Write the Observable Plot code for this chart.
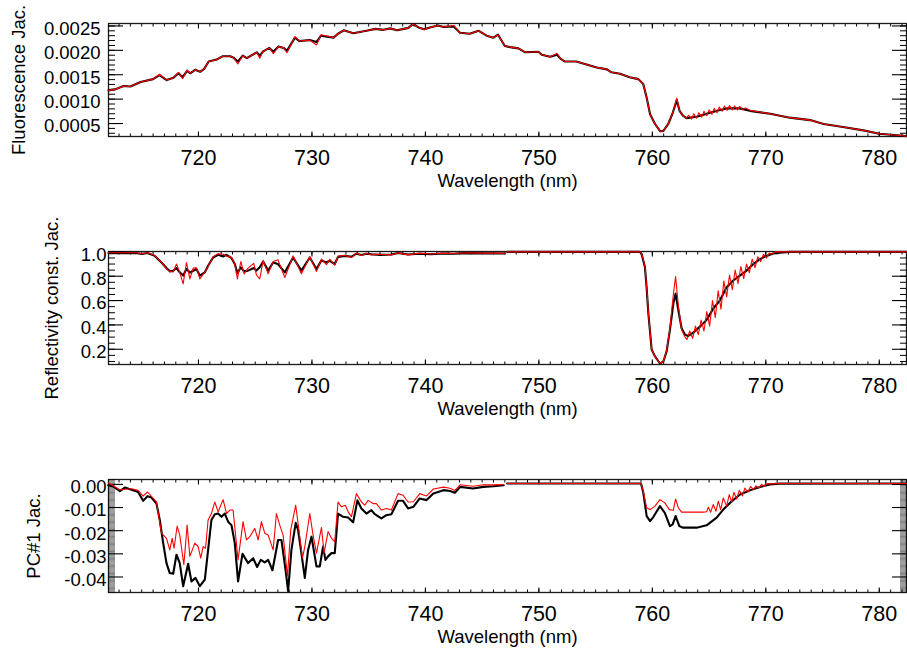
<!DOCTYPE html>
<html><head><meta charset="utf-8">
<script src="https://cdn.jsdelivr.net/npm/d3@7"></script>
<script src="https://cdn.jsdelivr.net/npm/@observablehq/plot@0.6"></script>
<style>
html,body{margin:0;padding:0;background:#fff;}
#chart svg{display:block;}
</style></head><body><div id="chart"></div>
<script>
// ---------- axes ----------
const xDomain = [712.07, 782.4];
const xMajorTicks = [720, 730, 740, 750, 760, 770, 780];
const xTitle = "Wavelength (nm)";
const bandSplit = 747.1;

const fluoTitle = "Fluorescence Jac.";
const fluoTicks = [0.0005, 0.0010, 0.0015, 0.0020, 0.0025];
const reflTitle = "Reflectivity const. Jac.";
const reflTicks = [0.2, 0.4, 0.6, 0.8, 1.0];
const pcTitle = "PC#1 Jac.";
const pcTicks = [0.00, -0.01, -0.02, -0.03, -0.04];

// ---------- panel 1: fluorescence Jacobian ----------
const fluoBlackWl = [712.07,712.66,713.4,714.0,714.9,716.0,716.56,717.2,717.8,718.24,
718.6,719.0,719.27,719.7,720.15,720.5,720.9,721.6,722.15,722.8,
723.08,723.47,723.9,724.26,725.14,725.4,725.7,726.25,726.6,727.05,
727.5,727.8,728.5,728.9,729.8,730.4,730.8,731.9,732.3,732.8,
733.65,734.8,735.6,736.3,736.9,737.5,738.1,738.5,738.9,739.4,
739.9,740.4,741.1,741.6,742.5,743.05,743.9,744.7,745.4,746.0,
746.4,747.0,747.6,748.2,748.8,749.96,750.25,751.0,751.6,751.9,
752.3,753.3,753.9,755.1,756.0,756.4,757.15,758.0,758.77,759.2,
759.5,759.8,760.24,760.7,760.97,761.4,761.8,762.15,762.4,762.7,
763.0,763.9,764.8,765.7,766.55,767.7,768.6,770.4,772.1,773.9,
775.1,776.8,778.6,780.0,782.1,782.4];
const fluoBlackVal = [0.00118,0.00120,0.00127,0.00126,0.00135,0.00141,0.00149,0.00139,0.00144,0.00153,
0.00145,0.00158,0.00153,0.00160,0.00156,0.00162,0.00177,0.00181,0.00188,0.00188,
0.00185,0.00177,0.00189,0.00184,0.00196,0.00189,0.00198,0.00205,0.00197,0.00208,
0.00205,0.00199,0.00226,0.00219,0.00221,0.00217,0.00230,0.00226,0.00234,0.00241,
0.00235,0.00240,0.00244,0.00242,0.00245,0.00241,0.00244,0.00246,0.00254,0.00247,
0.00243,0.00247,0.00251,0.00248,0.00249,0.00236,0.00234,0.00240,0.00230,0.00226,
0.00232,0.00209,0.00206,0.00204,0.00196,0.00197,0.00191,0.00187,0.00191,0.00183,
0.00177,0.00177,0.00173,0.00165,0.00161,0.00155,0.00152,0.00145,0.00141,0.00131,
0.00103,0.00069,0.00049,0.00034,0.00035,0.00049,0.00072,0.00098,0.00076,0.00066,
0.00061,0.00064,0.00070,0.00076,0.00081,0.00081,0.00076,0.00070,0.00062,0.00057,
0.00049,0.00043,0.00036,0.00029,0.00025,0.00024];
const fluoRedWl = fluoBlackWl.slice(0, 90).concat([
763.0,763.2,763.45,763.65,763.9,764.1,764.35,764.55,764.8,765.0,
765.25,765.45,765.7,765.9,766.15,766.35,766.6,766.8,767.05,767.25,
767.5,767.7,767.95,768.2,768.6,
770.4,772.1,773.9,775.1,776.8,778.6,780.0,782.1,782.4]);
const fluoRedVal = [0.00118,0.00120,0.00127,0.00126,0.00135,0.00141,0.00151,0.00139,0.00144,0.00155,
0.00142,0.00160,0.00153,0.00160,0.00156,0.00162,0.00177,0.00181,0.00188,0.00188,
0.00185,0.00172,0.00189,0.00184,0.00196,0.00184,0.00198,0.00205,0.00193,0.00208,
0.00205,0.00195,0.00228,0.00219,0.00221,0.00211,0.00232,0.00226,0.00234,0.00241,
0.00235,0.00240,0.00244,0.00242,0.00245,0.00241,0.00244,0.00246,0.00254,0.00247,
0.00243,0.00247,0.00251,0.00248,0.00251,0.00236,0.00234,0.00240,0.00230,0.00226,
0.00232,0.00209,0.00206,0.00204,0.00196,0.00197,0.00191,0.00187,0.00194,0.00183,
0.00177,0.00177,0.00173,0.00165,0.00161,0.00155,0.00152,0.00145,0.00141,0.00131,
0.00103,0.00069,0.00049,0.00034,0.00035,0.00049,0.00072,0.00102,0.00076,0.00066,
0.00061,0.00067,0.00059,0.00070,0.00061,0.00072,0.00063,0.00075,0.00066,0.00078,
0.00069,0.00081,0.00072,0.00084,0.00075,0.00086,0.00077,0.00087,0.00078,0.00086,
0.00078,0.00085,0.00078,0.00082,0.00077,
0.00070,0.00062,0.00057,0.00049,0.00043,0.00036,0.00029,0.00025,0.00024];

// ---------- panel 2: reflectivity constant Jacobian ----------
const reflWlA = [712.07,713.5,714.5,715.0,715.5,716.15,716.74,717.18,717.47,717.77,
718.06,718.35,718.65,718.94,719.24,719.53,719.82,720.12,720.56,720.85,
721.29,721.73,722.17,722.47,722.91,723.2,723.43,723.73,724.02,724.37,
724.87,725.11,725.4,725.7,726.14,726.58,727.0,727.61,728.34,729.07,
729.81,730.4,730.84,731.28,731.57,732.01,732.3,732.9,733.5,733.92,
734.36,734.8,735.24,736.0,737.0,737.59,738.47,739.5,740.5,741.5,
742.5,743.5,745.0,747.0];
const reflBlackA = [0.990,0.992,0.990,0.983,0.990,0.967,0.913,0.867,0.840,0.845,
0.867,0.832,0.805,0.859,0.830,0.845,0.859,0.805,0.832,0.886,
0.954,0.976,0.962,0.976,0.949,0.900,0.824,0.873,0.840,0.846,
0.867,0.846,0.873,0.920,0.846,0.913,0.900,0.832,0.954,0.846,
0.954,0.859,0.930,0.913,0.927,0.900,0.959,0.967,0.960,0.985,
0.975,0.985,0.980,0.975,0.978,0.990,0.978,0.985,0.980,0.987,
0.985,0.990,0.988,0.986];
const reflRedA = [0.993,0.993,0.993,0.985,0.993,0.970,0.913,0.860,0.840,0.835,
0.900,0.830,0.737,0.913,0.778,0.867,0.870,0.778,0.835,0.880,
0.960,0.985,0.981,0.965,0.955,0.900,0.778,0.921,0.819,0.867,
0.905,0.810,0.778,0.930,0.820,0.920,0.935,0.790,0.967,0.820,
0.960,0.840,0.940,0.895,0.940,0.890,0.965,0.970,0.955,0.990,
0.970,0.988,0.975,0.980,0.975,0.992,0.975,0.990,0.982,0.990,
0.986,0.993,0.990,0.990];
const reflBlackWlB = [747.2,758.9,759.06,759.35,759.5,759.65,759.94,760.23,760.67,760.97,
761.26,761.55,761.85,762.05,762.29,762.58,762.88,763.17,763.61,764.2,
764.78,765.37,765.96,766.55,767.13,767.72,768.31,768.9,769.48,770.07,
770.66,771.25,772.13,782.4];
const reflBlackB = [1.0,1.0,0.981,0.873,0.70,0.494,0.197,0.143,0.083,0.100,
0.183,0.359,0.576,0.657,0.521,0.373,0.319,0.310,0.337,0.386,
0.440,0.535,0.602,0.710,0.765,0.805,0.846,0.900,0.940,0.967,
0.986,0.994,1.0,1.0];
const reflRedWlB = [747.2,758.9,759.06,759.35,759.5,759.65,759.94,760.23,760.67,760.97,
761.26,761.55,761.85,762.05,762.29,762.58,762.88,
763.05,763.3,763.55,763.8,764.05,764.3,764.55,764.8,765.05,765.3,
765.55,765.8,766.05,766.3,766.55,766.8,767.05,767.3,767.55,767.8,
768.05,768.3,768.55,768.8,769.05,769.3,769.55,769.8,770.05,770.3,
770.55,770.8,771.5,782.4];
const reflRedB = [1.0,1.0,0.985,0.880,0.71,0.50,0.20,0.14,0.085,0.100,
0.190,0.370,0.650,0.797,0.560,0.360,0.300,
0.28,0.35,0.29,0.39,0.32,0.44,0.35,0.51,0.39,0.60,
0.46,0.68,0.53,0.76,0.63,0.81,0.69,0.85,0.74,0.88,
0.78,0.90,0.83,0.94,0.87,0.96,0.92,0.98,0.95,0.99,
0.98,1.0,1.0,1.0];

// ---------- panel 3: PC#1 Jacobian ----------
const pcBlackWl = [712.04,712.48,713.07,713.51,714.10,714.68,715.12,715.51,715.86,716.30,
716.59,716.89,717.18,717.47,717.77,718.06,718.35,718.65,719.09,719.38,
719.74,720.12,720.56,720.85,721.14,721.44,721.73,722.03,722.32,722.61,
722.91,723.20,723.49,723.88,724.37,724.82,725.17,725.49,725.84,726.14,
726.52,727.02,727.31,727.69,727.90,728.19,728.57,728.78,729.07,729.37,
729.66,729.96,730.40,730.69,730.98,731.19,731.42,731.72,732.01,732.30,
732.75,733.19,733.63,734.01,734.36,734.80,735.24,735.54,736.12,736.56,
737.00,737.59,738.03,738.47,738.94,739.50,740.10,740.70,741.60,742.17,
742.60,743.06,744.20,745.10,746.00,746.90,
747.20,759.00,759.20,759.50,759.80,760.10,760.67,761.10,761.55,761.79,
762.05,762.38,762.67,763.90,764.78,765.67,766.25,766.84,767.72,768.60,
769.48,770.37,771.20,782.40];
const pcBlackVal = [-0.0004,-0.0009,-0.0029,-0.0014,-0.0023,-0.0033,-0.0071,-0.0051,-0.0057,-0.0083,
-0.0154,-0.0254,-0.0340,-0.0383,-0.0386,-0.0304,-0.0340,-0.0440,-0.0343,-0.0419,
-0.0404,-0.0440,-0.0411,-0.0283,-0.0154,-0.0129,-0.0126,-0.0140,-0.0126,-0.0161,
-0.0176,-0.0254,-0.0419,-0.0300,-0.0340,-0.0319,-0.0357,-0.0326,-0.0337,-0.0326,
-0.0371,-0.0240,-0.0240,-0.0376,-0.0461,-0.0283,-0.0166,-0.0197,-0.0297,-0.0404,
-0.0283,-0.0226,-0.0354,-0.0354,-0.0269,-0.0326,-0.0311,-0.0297,-0.0297,-0.0126,
-0.0140,-0.0143,-0.0164,-0.0069,-0.0104,-0.0126,-0.0111,-0.0129,-0.0147,-0.0133,
-0.0129,-0.0071,-0.0071,-0.0104,-0.0097,-0.0061,-0.0068,-0.0039,-0.0025,-0.0029,
-0.0036,-0.0011,-0.0018,-0.0011,-0.0008,-0.0004,
0.0004,0.0004,-0.0035,-0.0137,-0.0159,-0.0140,-0.0094,-0.0123,-0.0180,-0.0173,
-0.0137,-0.0180,-0.0187,-0.0187,-0.0177,-0.0144,-0.0109,-0.0080,-0.0044,-0.0026,
-0.0011,0.0000,0.0003,0.0004];
const pcRedWl = [712.04,713.07,714.10,714.68,715.12,715.51,716.30,716.74,717.18,717.47,
717.68,717.85,718.12,718.35,718.71,719.00,719.24,719.68,719.97,720.20,
720.41,720.62,720.85,721.14,721.44,721.73,722.17,722.47,722.76,723.05,
723.49,723.93,724.23,724.52,724.96,725.26,725.55,725.84,726.14,726.58,
726.87,727.16,727.46,727.84,728.13,728.57,728.78,729.16,729.37,729.81,
730.10,730.40,730.84,731.07,731.42,731.72,732.01,732.30,732.60,732.95,
733.19,733.48,733.92,734.36,734.65,734.95,735.39,735.68,736.12,736.56,
737.00,737.59,738.03,738.47,738.94,739.50,740.10,740.70,741.60,742.17,
742.60,743.06,744.20,745.10,746.00,746.90,
747.20,759.00,759.20,759.50,759.80,760.23,760.67,761.10,761.50,761.85,
762.05,762.29,762.58,764.50,764.78,764.93,765.14,765.37,765.61,765.81,
766.02,766.25,766.55,766.78,766.99,767.19,767.43,767.66,767.93,768.16,
768.40,768.66,768.90,769.13,769.37,769.63,769.87,770.13,770.50,771.20,
782.40];
const pcRedVal = [0.0007,-0.0023,-0.0019,-0.0026,-0.0051,-0.0033,-0.0076,-0.0211,-0.0233,-0.0283,
-0.0233,-0.0276,-0.0180,-0.0219,-0.0347,-0.0176,-0.0311,-0.0254,-0.0269,-0.0319,
-0.0269,-0.0276,-0.0154,-0.0126,-0.0076,-0.0119,-0.0066,-0.0126,-0.0111,-0.0111,
-0.0326,-0.0161,-0.0240,-0.0226,-0.0190,-0.0240,-0.0161,-0.0211,-0.0219,-0.0283,
-0.0126,-0.0176,-0.0219,-0.0397,-0.0197,-0.0090,-0.0169,-0.0319,-0.0269,-0.0126,
-0.0219,-0.0297,-0.0186,-0.0297,-0.0204,-0.0233,-0.0247,-0.0076,-0.0097,-0.0090,
-0.0119,-0.0140,-0.0040,-0.0076,-0.0090,-0.0069,-0.0083,-0.0083,-0.0111,-0.0104,
-0.0111,-0.0040,-0.0047,-0.0076,-0.0075,-0.0040,-0.0050,-0.0020,-0.0012,-0.0017,
-0.0026,-0.0002,-0.0008,-0.0002,-0.0002,-0.0001,
0.0004,0.0004,-0.0030,-0.0101,-0.0109,-0.0094,-0.0066,-0.0080,-0.0109,-0.0112,
-0.0063,-0.0101,-0.0120,-0.0120,-0.0118,-0.0099,-0.0120,-0.0087,-0.0116,-0.0073,
-0.0109,-0.0059,-0.0094,-0.0044,-0.0077,-0.0034,-0.0063,-0.0026,-0.0049,-0.0016,
-0.0034,-0.0009,-0.0023,-0.0006,-0.0016,0.0000,-0.0009,0.0003,0.0002,0.0004,
0.0004];

// ---------- build ----------
function rows(wl, val, split) {
  if (wl.length !== val.length) throw new Error("length mismatch " + wl.length + " vs " + val.length);
  return wl.map((w, i) => ({w, v: val[i], band: split && w > bandSplit ? "B" : "A"}));
}

const FONT = "'Liberation Sans', Arial, Helvetica, sans-serif";
const FS = 18.5;      // titles and y tick labels
const FSX = 21.5;     // x tick labels
const ML = 108, MT = 23, MR = 1, W = 907;

function panel({height, marginBottom, yDomain, yMajor, yMinor, minorWidth, fmt, labelPad, title, titleX, series}) {
  const marks = [
    Plot.frame({stroke: "#1a1a1a", strokeWidth: 1.3}),
    Plot.axisX({anchor: "bottom", ticks: xMajorTicks, tickSize: -4.5, tickFormat: () => "", label: null, strokeWidth: 1.1}),
    Plot.axisX({anchor: "bottom", ticks: d3.range(713, 783), tickSize: -2.5, tickFormat: () => "", label: null}),
    Plot.axisX({anchor: "top", ticks: xMajorTicks, tickSize: -4.5, tickFormat: () => "", label: null, strokeWidth: 1.1}),
    Plot.axisX({anchor: "top", ticks: d3.range(713, 783), tickSize: -2.5, tickFormat: () => "", label: null}),
    Plot.axisY({anchor: "left", ticks: yMajor, tickSize: -15, tickFormat: () => "", label: null, strokeWidth: 1.1}),
    Plot.axisY({anchor: "left", ticks: yMinor, tickSize: -7, tickFormat: () => "", label: null, strokeWidth: minorWidth}),
    Plot.axisY({anchor: "right", ticks: yMajor, tickSize: -15, tickFormat: () => "", label: null, strokeWidth: 1.1}),
    Plot.axisY({anchor: "right", ticks: yMinor, tickSize: -7, tickFormat: () => "", label: null, strokeWidth: minorWidth}),
    Plot.axisX({anchor: "bottom", ticks: xMajorTicks, tickSize: 0, tickPadding: 13.5, tickFormat: d => String(d), label: null, fontSize: FSX}),
    Plot.axisY({anchor: "left", ticks: yMajor, tickSize: 0, tickPadding: labelPad, tickFormat: fmt, label: null, fontSize: FS, dy: 3}),
    Plot.text([xTitle], {frameAnchor: "bottom", dy: 45, fontSize: FS, lineAnchor: "middle", textAnchor: "middle"}),
    Plot.text([title], {frameAnchor: "left", dx: titleX - ML, rotate: -90, fontSize: FS, lineAnchor: "middle", textAnchor: "middle"})
  ];
  for (const s of series) {
    marks.push(Plot.line(s.data, {x: "w", y: "v", z: "band", stroke: s.color, strokeWidth: s.width, strokeLinejoin: "round"}));
  }
  return Plot.plot({
    width: W, height, marginLeft: ML, marginRight: MR, marginTop: MT, marginBottom,
    x: {domain: xDomain},
    y: {domain: yDomain},
    style: {fontFamily: FONT, fontSize: FS + "px", background: "#fff", color: "#000", overflow: "visible"},
    marks
  });
}

const chart = document.getElementById("chart");

chart.append(panel({
  height: 228, marginBottom: 92,
  yDomain: [0.000234, 0.00255],
  yMajor: fluoTicks,
  yMinor: d3.range(3, 26).map(i => i * 0.0001),
  minorWidth: 1,
  fmt: d => d.toFixed(4), labelPad: 8,
  title: fluoTitle, titleX: 19,
  series: [
    {data: rows(fluoBlackWl, fluoBlackVal, false), color: "#000", width: 2.1},
    {data: rows(fluoRedWl, fluoRedVal, false), color: "#ff0000", width: 1.1}
  ]
}));

chart.append(panel({
  height: 228, marginBottom: 92,
  yDomain: [0.075, 1.003],
  yMajor: reflTicks,
  yMinor: d3.range(2, 21).map(i => i * 0.05),
  minorWidth: 1,
  fmt: d => d.toFixed(1), labelPad: 2,
  title: reflTitle, titleX: 52,
  series: [
    {data: rows(reflWlA, reflBlackA, true).concat(rows(reflBlackWlB, reflBlackB, true)), color: "#000", width: 2.1},
    {data: rows(reflWlA, reflRedA, true).concat(rows(reflRedWlB, reflRedB, true)), color: "#ff0000", width: 1.1}
  ]
}));

chart.append(panel({
  height: 199, marginBottom: 63,
  yDomain: [-0.0467, 0.0021],
  yMajor: pcTicks,
  yMinor: d3.range(-93, 5).map(i => i * 0.0005),
  minorWidth: 0.5,
  fmt: d => (Math.abs(d) < 1e-9 ? 0 : d).toFixed(2), labelPad: 2,
  title: pcTitle, titleX: 33.5,
  series: [
    {data: rows(pcBlackWl, pcBlackVal, true), color: "#000", width: 2.1},
    {data: rows(pcRedWl, pcRedVal, true), color: "#ff0000", width: 1.1}
  ]
}));
</script></body></html>
